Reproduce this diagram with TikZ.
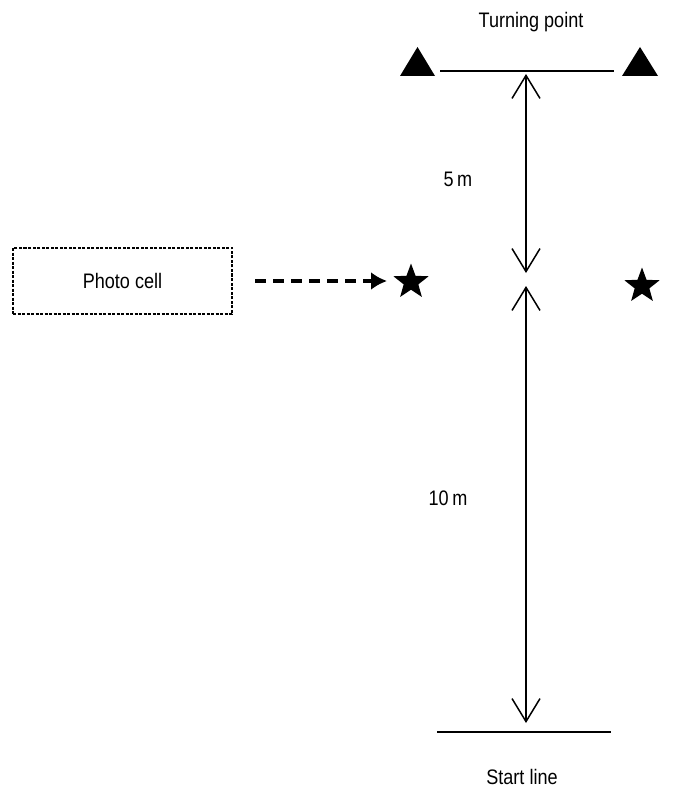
\documentclass[tikz,border=0pt]{standalone}
\usepackage{fontspec}
\setmainfont{Liberation Sans}[FakeStretch=0.86]
\usetikzlibrary{arrows.meta,shapes.geometric}
\begin{document}
\begin{tikzpicture}[x=1pt,y=-1pt,
  lbl/.style={font=\fontsize{21}{24}\selectfont, inner sep=0pt},
  dimarrow/.style={line width=1.5pt, {Straight Barb[length=23pt,width=28pt,line width=1.5pt]}-{Straight Barb[length=23pt,width=28pt,line width=1.5pt]}},
  cone/.style={fill=black, draw=none},
  starmark/.style={star, star points=5, star point ratio=2.4, fill=black, minimum size=37pt, inner sep=0pt},
  baseline/.style={line width=1.7pt}]
\useasboundingbox (0,0) rectangle (677,799);
% turning point
\node[lbl] (tp) at (531,22) {Turning point};
\coordinate (tl) at (440,71);
\coordinate (tr) at (614,71);
\draw[baseline] (tl) -- (tr);
\fill[cone] (400,76) -- (417.5,47) -- (435,76) -- cycle;
\fill[cone] (622,76) -- (640,47) -- (658,76) -- cycle;
% top dimension
\coordinate (a1) at (526,74);
\coordinate (a2) at (526,273);
\draw[dimarrow] (a1) -- (a2);
\node[lbl] (five) at (458,179) {5\,m};
% bottom dimension
\coordinate (b1) at (526,286);
\coordinate (b2) at (526,723);
\draw[dimarrow] (b1) -- (b2);
\node[lbl] (ten) at (448,498) {10\,m};
% start line
\coordinate (sl) at (437,732);
\coordinate (sr) at (611,732);
\draw[baseline] (sl) -- (sr);
\node[lbl] (start) at (522,777) {Start line};
% stars
\node[starmark] (s1) at (411,282) {};
\node[starmark] (s2) at (642,286) {};
% photo cell
\node[draw, line width=1.2pt, dash pattern=on 3pt off 1.5pt, minimum width=219pt, minimum height=66pt, inner sep=0pt] (pc) at (122.5,281) {\fontsize{21}{24}\selectfont Photo cell};
\coordinate (tipend) at (387,281);
\draw[line width=3.2pt, dash pattern=on 11pt off 7pt, -{Latex[length=16pt,width=18pt]}] (255,281) -- (tipend);
\end{tikzpicture}
\end{document}
